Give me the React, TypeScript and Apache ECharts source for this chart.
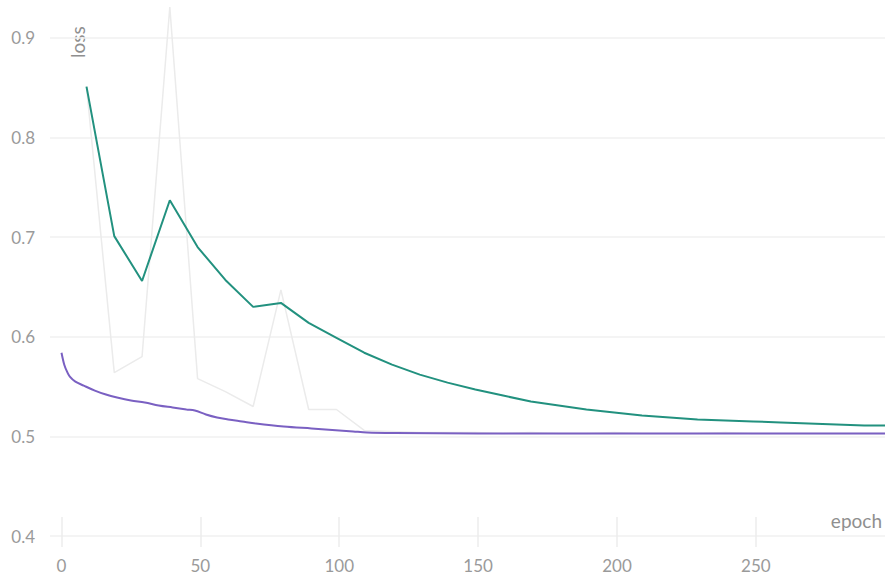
import { useEffect, useRef } from "react";
import * as echarts from "echarts";

const xTicks = [0, 50, 100, 150, 200, 250];
const yTicks = [0.4, 0.5, 0.6, 0.7, 0.8, 0.9];

const trainEpochs = [9, 19, 29, 39, 49, 59, 69, 79, 89, 99, 109, 119, 129, 139, 149, 159, 169, 179, 189, 199, 209, 219, 229, 239, 249, 259, 269, 279, 289, 299];
const smoothLoss = [0.851, 0.701, 0.656, 0.737, 0.690, 0.657, 0.630, 0.634, 0.614, 0.599, 0.584, 0.572, 0.562, 0.554, 0.547, 0.541, 0.535, 0.531, 0.527, 0.524, 0.521, 0.519, 0.517, 0.516, 0.515, 0.514, 0.513, 0.512, 0.511, 0.511];
const rawLoss = [0.851, 0.564, 0.580, 0.931, 0.558, 0.545, 0.530, 0.647, 0.527, 0.527, 0.506, 0.505, 0.504, 0.504, 0.504, 0.503, 0.504, 0.503, 0.503, 0.504, 0.503, 0.503, 0.503, 0.504, 0.503, 0.503, 0.503, 0.503, 0.503, 0.503];

const valEpochs = [0, 1, 2, 3, 5, 8, 12, 16, 20, 25, 30, 35, 40, 45, 48, 52, 56, 60, 65, 70, 80, 90, 100, 105, 110, 120, 150, 200, 250, 299];
const valLoss = [0.584, 0.572, 0.565, 0.560, 0.555, 0.551, 0.546, 0.542, 0.539, 0.536, 0.534, 0.531, 0.529, 0.527, 0.526, 0.522, 0.519, 0.517, 0.515, 0.513, 0.510, 0.508, 0.506, 0.505, 0.504, 0.5035, 0.503, 0.503, 0.503, 0.503];

const FONT = "Lato";

export default function App() {
  const ref = useRef<HTMLDivElement>(null);
  useEffect(() => {
    document.body.style.margin = "0";
    const chart = echarts.init(ref.current!, null, { renderer: "svg" });
    const pairs = (xs: number[], ys: number[]) => xs.map((x, i) => [x, ys[i]]);
    chart.setOption({
      animation: false,
      backgroundColor: "#ffffff",
      grid: { left: 50, right: 0, top: 0, bottom: 30 },
      xAxis: {
        type: "value",
        min: -4.14,
        max: 296.5,
        axisLine: { show: false },
        axisTick: {
          show: true,
          inside: true,
          length: 30,
          customValues: xTicks,
          lineStyle: { color: "#ececec", width: 1.5 },
        },
        axisLabel: {
          customValues: xTicks,
          color: "#9a9a9a",
          fontSize: 17,
          fontFamily: FONT,
          margin: 10,
        },
        splitLine: { show: false },
      },
      yAxis: {
        type: "value",
        min: 0.389,
        max: 0.938,
        axisLine: { show: false },
        axisTick: { show: false, customValues: yTicks },
        axisLabel: {
          customValues: yTicks,
          formatter: (v: number) => v.toFixed(1),
          color: "#9a9a9a",
          fontSize: 17,
          fontFamily: FONT,
          margin: 15,
        },
        splitLine: { show: true, lineStyle: { color: "#f1f1f1", width: 1.5 } },
      },
      graphic: [
        {
          type: "text",
          right: 3,
          top: 511,
          style: { text: "epoch", fill: "#8f8f8f", fontSize: 19, fontFamily: FONT },
        },
        {
          type: "text",
          x: 68,
          y: 58,
          rotation: Math.PI / 2,
          style: { text: "loss", fill: "#8f8f8f", fontSize: 19, fontFamily: FONT },
        },
      ],
      series: [
        {
          type: "line",
          name: "raw",
          data: pairs(trainEpochs, rawLoss),
          showSymbol: false,
          lineStyle: { color: "#ebebeb", width: 1.5 },
          z: 1,
          silent: true,
        },
        {
          type: "line",
          name: "val",
          data: pairs(valEpochs, valLoss),
          showSymbol: false,
          smooth: 0.35,
          lineStyle: { color: "#7a60c2", width: 2 },
          z: 2,
          silent: true,
        },
        {
          type: "line",
          name: "train",
          data: pairs(trainEpochs, smoothLoss),
          showSymbol: false,
          lineStyle: { color: "#22917f", width: 2 },
          z: 3,
          silent: true,
        },
      ],
    });
    return () => chart.dispose();
  }, []);
  return <div ref={ref} style={{ width: 885, height: 577 }} />;
}
